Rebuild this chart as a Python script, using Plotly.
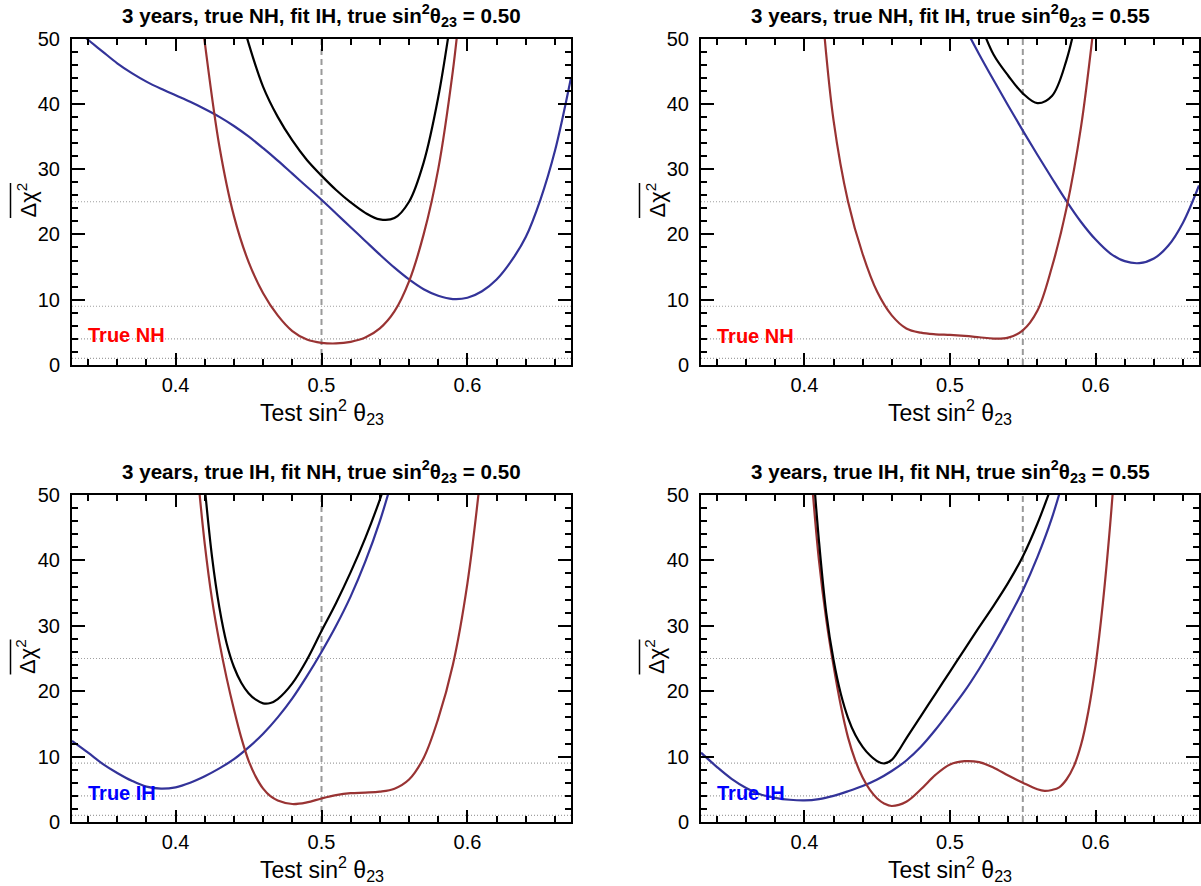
import plotly.graph_objects as go

W, H = 1201, 886

# ---------------- data ----------------
# top-left: true NH, fit IH, true sin^2 = 0.50
tl_blue_x = [0.335, 0.339, 0.35, 0.36, 0.37, 0.38, 0.39, 0.40, 0.41, 0.42, 0.43, 0.44, 0.45, 0.46, 0.47,
             0.48, 0.49, 0.50, 0.51, 0.52, 0.53, 0.54, 0.55, 0.56, 0.57, 0.58, 0.59, 0.60, 0.61, 0.62,
             0.63, 0.64, 0.65, 0.66, 0.671]
tl_blue_y = [50.9, 50.0, 48.0, 46.2, 44.7, 43.4, 42.3, 41.3, 40.3, 39.2, 38.0, 36.6, 35.0, 33.2, 31.3,
             29.3, 27.3, 25.3, 23.2, 21.1, 19.0, 16.9, 14.9, 13.1, 11.6, 10.6, 10.1, 10.3, 11.3, 13.1,
             15.9, 19.6, 25.3, 32.8, 44.0]
tl_black_x = [0.44, 0.45, 0.46, 0.47, 0.48, 0.49, 0.50, 0.51, 0.52, 0.53, 0.54, 0.55, 0.56, 0.57, 0.58, 0.59]
tl_black_y = [57.5, 49.3, 42.6, 38.0, 34.4, 31.4, 29.0, 26.8, 24.9, 23.3, 22.3, 22.5, 25.0, 31.0, 41.0, 55.0]
tl_red_x = [0.418, 0.42, 0.43, 0.44, 0.45, 0.46, 0.47, 0.48, 0.49, 0.50, 0.51, 0.52, 0.53, 0.54, 0.55,
            0.56, 0.57, 0.58, 0.59, 0.595]
tl_red_y = [53.0, 49.4, 33.5, 22.8, 15.8, 11.0, 7.6, 5.2, 3.9, 3.4, 3.3, 3.55, 4.2, 5.6, 8.2,
            12.8, 20.0, 30.0, 45.0, 55.0]

# top-right: true NH, fit IH, true sin^2 = 0.55
tr_blue_x = [0.51, 0.52, 0.53, 0.54, 0.55, 0.56, 0.57, 0.58, 0.59, 0.60, 0.61, 0.62, 0.63,
             0.64, 0.65, 0.66, 0.671]
tr_blue_y = [51.8, 47.6, 43.6, 39.7, 35.9, 32.2, 28.6, 25.1, 21.9, 19.2, 17.1, 15.9, 15.6,
             16.3, 18.3, 21.8, 27.5]
tr_black_x = [0.52, 0.53, 0.54, 0.55, 0.56, 0.57, 0.58, 0.59]
tr_black_y = [52.8, 47.5, 44.3, 41.6, 40.1, 41.2, 46.7, 56.5]
tr_red_x = [0.412, 0.42, 0.43, 0.44, 0.45, 0.46, 0.47, 0.48, 0.49, 0.50, 0.51, 0.52, 0.53,
            0.54, 0.55, 0.56, 0.57, 0.58, 0.59, 0.60]
tr_red_y = [55.0, 37.5, 25.0, 17.0, 11.2, 7.6, 5.6, 4.95, 4.7, 4.6, 4.45, 4.25, 4.05,
            4.2, 5.3, 8.3, 15.0, 24.0, 36.5, 54.5]

# bottom-left: true IH, fit NH, true sin^2 = 0.50
bl_blue_x = [0.329, 0.34, 0.35, 0.36, 0.37, 0.38, 0.39, 0.40, 0.41, 0.42, 0.43, 0.44, 0.45, 0.46,
             0.47, 0.48, 0.49, 0.50, 0.51, 0.52, 0.53, 0.54, 0.55]
bl_blue_y = [12.4, 10.6, 8.9, 7.5, 6.3, 5.4, 5.1, 5.3, 6.0, 7.0, 8.2, 9.6, 11.4, 13.5,
             16.0, 18.9, 22.3, 26.0, 30.0, 34.5, 39.8, 46.0, 53.5]
bl_black_x = [0.419, 0.425, 0.43, 0.435, 0.44, 0.445, 0.45, 0.455, 0.46, 0.465, 0.47, 0.48, 0.49, 0.50,
              0.51, 0.52, 0.53, 0.54, 0.55]
bl_black_y = [53.5, 40.5, 32.8, 27.3, 23.7, 21.3, 19.7, 18.7, 18.15, 18.2, 18.8, 21.2, 24.8, 29.2,
              33.5, 38.2, 43.4, 49.3, 56.0]
bl_red_x = [0.415, 0.42, 0.425, 0.43, 0.435, 0.44, 0.445, 0.45, 0.455, 0.46, 0.465, 0.47, 0.48,
            0.49, 0.50, 0.51, 0.52, 0.53, 0.54, 0.55, 0.56, 0.57, 0.58, 0.59, 0.60, 0.61]
bl_red_y = [53.5, 42.5, 34.0, 27.5, 22.0, 17.2, 12.9, 9.4, 6.9, 5.1, 3.95, 3.3, 2.75,
            3.0, 3.6, 4.1, 4.4, 4.5, 4.65, 5.1, 6.5, 9.8, 15.8, 24.0, 36.5, 55.0]

# bottom-right: true IH, fit NH, true sin^2 = 0.55
br_blue_x = [0.329, 0.34, 0.35, 0.36, 0.37, 0.38, 0.39, 0.40, 0.41, 0.42, 0.43, 0.44, 0.45, 0.46,
             0.47, 0.48, 0.49, 0.50, 0.51, 0.52, 0.53, 0.54, 0.55, 0.56, 0.57, 0.58]
br_blue_y = [10.6, 8.4, 6.6, 5.2, 4.2, 3.7, 3.4, 3.3, 3.5, 4.0, 4.7, 5.5, 6.5, 7.8,
             9.4, 11.5, 14.1, 17.0, 20.0, 23.4, 27.1, 31.1, 35.4, 40.5, 46.5, 54.0]
br_black_x = [0.405, 0.41, 0.415, 0.42, 0.425, 0.43, 0.435, 0.44, 0.445, 0.45, 0.455, 0.46, 0.465,
              0.47, 0.48, 0.49, 0.50, 0.51, 0.52, 0.53, 0.54, 0.55, 0.56, 0.57]
br_black_y = [57.0, 43.0, 32.0, 24.8, 19.6, 15.9, 13.3, 11.5, 10.2, 9.3, 8.95, 9.5, 11.0,
              12.8, 16.2, 19.6, 23.0, 26.4, 29.8, 33.1, 36.6, 40.6, 45.6, 51.5]
br_red_x = [0.405, 0.41, 0.415, 0.42, 0.425, 0.43, 0.435, 0.44, 0.445, 0.45, 0.455, 0.46, 0.47,
            0.48, 0.49, 0.50, 0.51, 0.52, 0.53, 0.54, 0.55, 0.56, 0.565, 0.57, 0.575, 0.58,
            0.585, 0.59, 0.595, 0.60, 0.605, 0.61, 0.615]
br_red_y = [52.5, 40.0, 31.0, 23.9, 17.8, 12.9, 9.4, 6.8, 4.9, 3.6, 2.8, 2.45, 3.1,
            5.0, 7.2, 8.8, 9.3, 9.15, 8.3, 7.1, 6.0, 5.0, 4.75, 4.9, 5.3, 6.5,
            8.5, 11.8, 16.9, 24.0, 33.5, 45.5, 60.0]

titles = [
    "3 years, true NH, fit IH, true sin<sup>2</sup>θ<sub>23</sub> = 0.50",
    "3 years, true NH, fit IH, true sin<sup>2</sup>θ<sub>23</sub> = 0.55",
    "3 years, true IH, fit NH, true sin<sup>2</sup>θ<sub>23</sub> = 0.50",
    "3 years, true IH, fit NH, true sin<sup>2</sup>θ<sub>23</sub> = 0.55",
]
true_values = [0.50, 0.55, 0.50, 0.55]
hier_labels = ["True NH", "True NH", "True IH", "True IH"]
label_y = [4.6, 4.5, 4.4, 4.5]
ref_levels = [1, 4, 9, 25]
x_range = [0.329, 0.671]
y_range = [0, 50]
x_tickvals = [0.4, 0.5, 0.6]
x_ticktext = ["0.4", "0.5", "0.6"]
y_tickvals = [0, 10, 20, 30, 40, 50]
y_ticktext = ["0", "10", "20", "30", "40", "50"]

BLUE = "#333399"
RED = "#993333"
BLACK = "#000000"

curves = [
    [(tl_blue_x, tl_blue_y, BLUE), (tl_red_x, tl_red_y, RED), (tl_black_x, tl_black_y, BLACK)],
    [(tr_blue_x, tr_blue_y, BLUE), (tr_red_x, tr_red_y, RED), (tr_black_x, tr_black_y, BLACK)],
    [(bl_blue_x, bl_blue_y, BLUE), (bl_red_x, bl_red_y, RED), (bl_black_x, bl_black_y, BLACK)],
    [(br_blue_x, br_blue_y, BLUE), (br_red_x, br_red_y, RED), (br_black_x, br_black_y, BLACK)],
]
label_colors = ["#ff0000", "#ff0000", "#0000ff", "#0000ff"]

# ---------------- layout geometry (pixels) ----------------
cols_px = [(72, 571), (701, 1199)]
rows_px = [(38.5, 365), (495, 822)]

FONT = "Liberation Sans, Arial, Helvetica, sans-serif"

fig = go.Figure()
layout = dict(
    width=W, height=H,
    margin=dict(l=0, r=0, t=0, b=0),
    paper_bgcolor="white", plot_bgcolor="white",
    showlegend=False,
    font=dict(family=FONT, size=20, color="black"),
)
annotations = []
shapes = []

for i in range(4):
    r, c = divmod(i, 2)
    x0p, x1p = cols_px[c]
    y0p, y1p = rows_px[r]
    xd = [x0p / W, x1p / W]
    yd = [1 - y1p / H, 1 - y0p / H]
    sfx = "" if i == 0 else str(i + 1)
    xa = "x" + sfx
    ya = "y" + sfx

    common = dict(
        showline=True, linecolor="black", linewidth=2, mirror="allticks",
        ticks="inside", tickcolor="black", tickwidth=1.5,
        showgrid=False, zeroline=False, automargin=False,
        tickfont=dict(family=FONT, size=20, color="black"),
    )
    layout["xaxis" + sfx] = dict(
        common, domain=xd, anchor=ya, range=x_range,
        tickvals=x_tickvals, ticktext=x_ticktext, ticklen=12,
        minor=dict(dtick=0.02, tick0=0, ticklen=6, tickcolor="black", tickwidth=1.5, ticks="inside"),
        ticklabelstandoff=1,
    )
    layout["yaxis" + sfx] = dict(
        common, domain=yd, anchor=xa, range=y_range,
        tickvals=y_tickvals, ticktext=y_ticktext, ticklen=13,
        minor=dict(dtick=2, tick0=0, ticklen=6, tickcolor="black", tickwidth=1.5, ticks="inside"),
        ticklabelstandoff=6,
    )

    for lvl in ref_levels:
        shapes.append(dict(type="line", xref=xa + " domain", yref=ya, x0=0, x1=1, y0=lvl, y1=lvl,
                           line=dict(color="#a0a0a0", width=1.2, dash="1px,2px"), layer="below"))
    shapes.append(dict(type="line", xref=xa, yref=ya + " domain", x0=true_values[i], x1=true_values[i],
                       y0=0, y1=1, line=dict(color="#9a9a9a", width=2, dash="6px,4px"), layer="below"))

    for (cx, cy, col) in curves[i]:
        fig.add_trace(go.Scatter(x=cx, y=cy, mode="lines", xaxis=xa, yaxis=ya,
                                 line=dict(color=col, width=2.2, shape="spline", smoothing=1.0),
                                 hoverinfo="skip"))

    # subplot title
    annotations.append(dict(text="<b>" + titles[i] + "</b>", xref="paper", yref="paper",
                            x=(x0p + x1p) / 2 / W, y=1 - (y0p - 23) / H, xanchor="center", yanchor="middle",
                            showarrow=False, font=dict(family=FONT, size=20.6, color="black")))
    # x title
    annotations.append(dict(text="Test sin<sup>2</sup> θ<sub>23</sub>", xref="paper", yref="paper",
                            x=(x0p + x1p) / 2 / W, y=1 - (y1p + 47) / H, xanchor="center", yanchor="middle",
                            showarrow=False, font=dict(family=FONT, size=23, color="black")))
    # y title (with overline)
    annotations.append(dict(text="Δχ<sup>2</sup>", xref="paper", yref="paper",
                            x=(x0p - 46) / W, y=1 - (y0p + 162) / H, xanchor="center", yanchor="middle",
                            textangle=-90, showarrow=False, font=dict(family=FONT, size=22, color="black")))
    shapes.append(dict(type="line", xref="paper", yref="paper",
                       x0=(x0p - 61.5) / W, x1=(x0p - 61.5) / W,
                       y0=1 - (y0p + 144.5) / H, y1=1 - (y0p + 179.5) / H,
                       line=dict(color="black", width=1.5)))
    # hierarchy label
    annotations.append(dict(text="<b>" + hier_labels[i] + "</b>", xref=xa, yref=ya,
                            x=0.3385, y=label_y[i], xanchor="left", yanchor="middle",
                            showarrow=False, font=dict(family=FONT, size=20, color=label_colors[i])))

layout["annotations"] = annotations
layout["shapes"] = shapes
fig.update_layout(**layout)
fig.write_html("out.html", config={"displayModeBar": False},
               post_script="document.body.style.margin='0px';document.body.style.overflow='hidden';")
